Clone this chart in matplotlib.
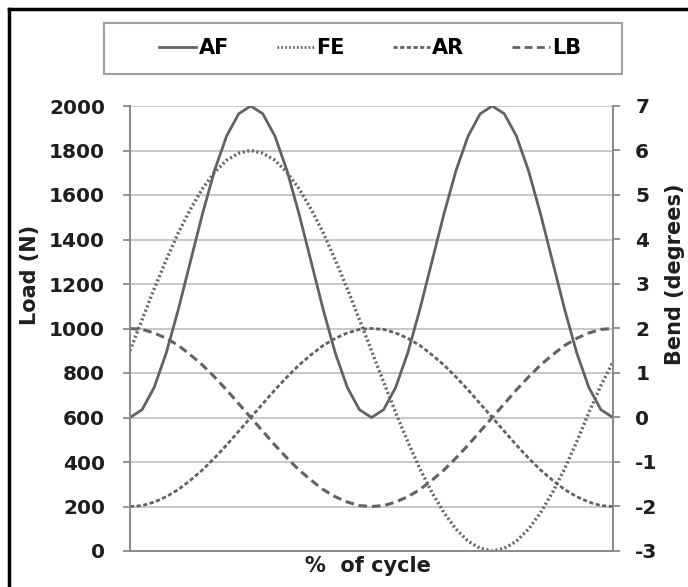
#!/usr/bin/env python

import numpy as np
import matplotlib
matplotlib.use('Agg')
import matplotlib.pyplot as plt
from matplotlib.lines import Line2D
from matplotlib.patches import Rectangle

plt.rcParams['font.family'] = ['DejaVu Sans']
plt.rcParams['font.weight'] = 'bold'
plt.rcParams['axes.unicode_minus'] = False

# % of cycle, sampled every 2.5 %
cycle = np.linspace(0, 100, 41)

# axial force (N), left axis
af = [600, 635, 735, 890, 1085, 1300, 1515, 1710, 1865, 1965, 2000,
      1965, 1865, 1710, 1515, 1300, 1085, 890, 735, 635, 600,
      635, 735, 890, 1085, 1300, 1515, 1710, 1865, 1965, 2000,
      1965, 1865, 1710, 1515, 1300, 1085, 890, 735, 635, 600]

# bends (degrees), right axis
fe = [1.5, 2.2, 2.89, 3.54, 4.15, 4.68, 5.14, 5.51, 5.78, 5.94, 6.0,
      5.94, 5.78, 5.51, 5.14, 4.68, 4.15, 3.54, 2.89, 2.2, 1.5,
      0.8, 0.11, -0.54, -1.15, -1.68, -2.14, -2.51, -2.78, -2.94, -3.0,
      -2.94, -2.78, -2.51, -2.14, -1.68, -1.15, -0.54, 0.11, 0.72, 1.25]
ar = [-2, -1.98, -1.9, -1.78, -1.62, -1.41, -1.18, -0.91, -0.62, -0.31, 0,
      0.31, 0.62, 0.91, 1.18, 1.41, 1.62, 1.78, 1.9, 1.98, 2,
      1.98, 1.9, 1.78, 1.62, 1.41, 1.18, 0.91, 0.62, 0.31, 0,
      -0.31, -0.62, -0.91, -1.18, -1.41, -1.62, -1.78, -1.9, -1.98, -2]
lb = [2, 1.98, 1.9, 1.78, 1.62, 1.41, 1.18, 0.91, 0.62, 0.31, 0,
      -0.31, -0.62, -0.91, -1.18, -1.41, -1.62, -1.78, -1.9, -1.98, -2,
      -1.98, -1.9, -1.78, -1.62, -1.41, -1.18, -0.91, -0.62, -0.31, 0,
      0.31, 0.62, 0.91, 1.18, 1.41, 1.62, 1.78, 1.9, 1.98, 2]

load_ticks = np.arange(0, 2001, 200)
bend_ticks = np.arange(-3, 8, 1)

line_col = '#626262'
grid_col = '#c4c4c4'
axis_col = '#8a8a8a'
text_col = '#1e1e1e'

fe_style = (0, (0.6, 0.8))
ar_style = (0, (1.5, 0.9))
lb_style = (0, (2.8, 1.6))

fig = plt.figure(figsize=(6.88, 5.87), dpi=100)
ax = fig.add_axes([130/688, 1 - 551/587, 483/688, 445/587])
ax2 = ax.twinx()

ax.set_xlim(0, 100)
ax.set_ylim(0, 2000)
ax2.set_ylim(-3, 7)
ax.set_yticks(load_ticks)
ax2.set_yticks(bend_ticks)
ax.set_xticks([])

ax.grid(axis='y', color=grid_col, linewidth=1.3)
ax.set_axisbelow(True)

for a in (ax, ax2):
    a.spines['top'].set_visible(False)
    for side in ('left', 'right', 'bottom'):
        a.spines[side].set_color(axis_col)
        a.spines[side].set_linewidth(1.3)
    a.tick_params(axis='y', length=5, width=1.3, color=axis_col,
                  labelsize=14.5, labelcolor=text_col)
ax.tick_params(axis='y', pad=13)
ax2.tick_params(axis='y', pad=11)

ax.plot(cycle, af, color=line_col, linewidth=2.0, solid_capstyle='round')
ax2.plot(cycle, fe, color=line_col, linewidth=2.4, linestyle=fe_style)
ax2.plot(cycle, ar, color=line_col, linewidth=2.0, linestyle=ar_style)
ax2.plot(cycle, lb, color=line_col, linewidth=2.2, linestyle=lb_style)

# axis titles
fig.text(30/688, 1 - 275/587, 'Load (N)', rotation=90, ha='center', va='center',
         fontsize=15, fontweight='bold', color=text_col)
fig.text(675/688, 1 - 274/587, 'Bend (degrees)', rotation=90, ha='center', va='center',
         fontsize=15, fontweight='bold', color=text_col)
fig.text(368/688, 1 - 566/587, '%  of cycle', ha='center', va='center',
         fontsize=15, fontweight='bold', color=text_col)

# legend with its own box
handles = [
    Line2D([], [], color=line_col, linewidth=2.0),
    Line2D([], [], color=line_col, linewidth=2.0, linestyle=fe_style),
    Line2D([], [], color=line_col, linewidth=2.0, linestyle=ar_style),
    Line2D([], [], color=line_col, linewidth=2.0, linestyle=lb_style),
]
fig.add_artist(Rectangle((104/688, 1 - 74/587), 518/688, 51/587,
                         transform=fig.transFigure, facecolor='white',
                         edgecolor='#a0a0a0', linewidth=1.5))
fig.legend(handles, ['AF', 'FE', 'AR', 'LB'], loc='center',
           bbox_to_anchor=(370/688, 1 - 48/587), ncol=4, frameon=False,
           handlelength=1.8, handletextpad=0.1, columnspacing=2.3,
           prop={'size': 15, 'weight': 'bold'})

# outer frame (left and top edges visible)
fig.add_artist(Line2D([9/688, 9/688], [0, 1 - 9/587], transform=fig.transFigure,
                      color='black', linewidth=2.5))
fig.add_artist(Line2D([9/688, 1], [1 - 9/587, 1 - 9/587], transform=fig.transFigure,
                      color='black', linewidth=2.5))

fig.savefig('out.png', dpi=100)
